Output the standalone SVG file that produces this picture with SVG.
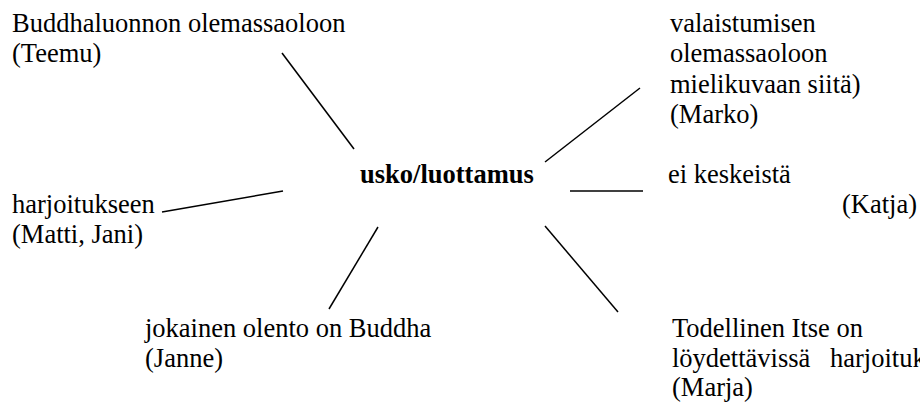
<svg xmlns="http://www.w3.org/2000/svg" width="920" height="403" viewBox="0 0 920 403">
  <style>
    text { font-family: "Liberation Serif", "Times New Roman", serif; font-size: 26.5px; fill: #000; }
    .hub { font-weight: bold; }
    .spoke { stroke: #000; stroke-width: 1.5; fill: none; }
  </style>
  <rect width="920" height="403" fill="#fff"/>

  <!-- connectors from the centre term out to each answer -->
  <g id="connectors">
    <line class="spoke" x1="282" y1="53" x2="354" y2="149"/>
    <line class="spoke" x1="640" y1="88" x2="545" y2="162"/>
    <line class="spoke" x1="570" y1="191" x2="643" y2="191"/>
    <line class="spoke" x1="545" y1="226" x2="618" y2="312"/>
    <line class="spoke" x1="378" y1="227" x2="329" y2="309"/>
    <line class="spoke" x1="162" y1="212" x2="283" y2="191"/>
  </g>

  <g id="center">
    <text class="hub" x="360" y="183">usko/luottamus</text>
  </g>

  <g id="teemu">
    <text x="12" y="32">Buddhaluonnon olemassaoloon</text>
    <text x="12" y="62">(Teemu)</text>
  </g>

  <g id="marko">
    <text x="670" y="32">valaistumisen</text>
    <text x="670" y="62">olemassaoloon</text>
    <text x="670" y="93">mielikuvaan siitä)</text>
    <text x="670" y="123">(Marko)</text>
  </g>

  <g id="katja">
    <text x="668" y="183">ei keskeistä</text>
    <text x="842" y="213">(Katja)</text>
  </g>

  <g id="matti-jani">
    <text x="12" y="213">harjoitukseen</text>
    <text x="12" y="243">(Matti, Jani)</text>
  </g>

  <g id="janne">
    <text x="145" y="337">jokainen olento on Buddha</text>
    <text x="145" y="367">(Janne)</text>
  </g>

  <g id="marja">
    <text x="672" y="337">Todellinen Itse on</text>
    <text x="672" y="367">löydettävissä</text>
    <text x="830" y="367">harjoituk</text>
    <text x="672" y="396">(Marja)</text>
  </g>
</svg>
